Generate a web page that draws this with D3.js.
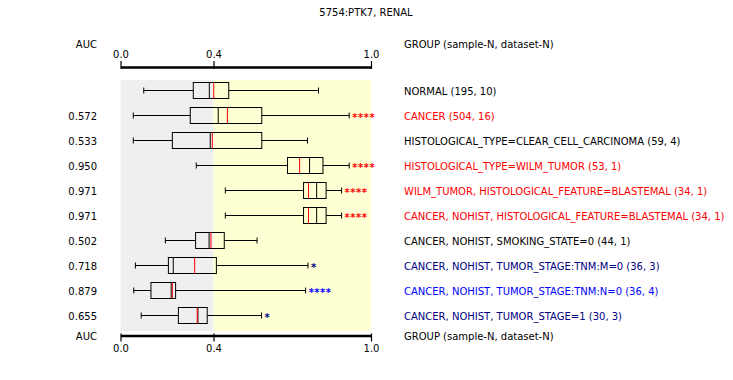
<!DOCTYPE html>
<html><head><meta charset="utf-8">
<script src="https://cdn.jsdelivr.net/npm/d3@7"></script>
<style>body{margin:0;background:#fff}svg text{font-family:"DejaVu Sans",sans-serif;font-size:10px}</style>
</head><body>
<svg id="c" width="733" height="380"></svg>
<script>
const title = "5754:PTK7, RENAL";
const groups = ["NORMAL (195, 10)","CANCER (504, 16)","HISTOLOGICAL_TYPE=CLEAR_CELL_CARCINOMA (59, 4)","HISTOLOGICAL_TYPE=WILM_TUMOR (53, 1)","WILM_TUMOR, HISTOLOGICAL_FEATURE=BLASTEMAL (34, 1)","CANCER, NOHIST, HISTOLOGICAL_FEATURE=BLASTEMAL (34, 1)","CANCER, NOHIST, SMOKING_STATE=0 (44, 1)","CANCER, NOHIST, TUMOR_STAGE:TNM:M=0 (36, 3)","CANCER, NOHIST, TUMOR_STAGE:TNM:N=0 (36, 4)","CANCER, NOHIST, TUMOR_STAGE=1 (30, 3)"];
const auc = ["","0.572","0.533","0.950","0.971","0.971","0.502","0.718","0.879","0.655"];
const whiskerLow  = [0.100,0.055,0.055,0.326,0.445,0.445,0.193,0.064,0.057,0.089];
const q1          = [0.313,0.300,0.223,0.682,0.743,0.743,0.323,0.206,0.131,0.249];
const median      = [0.382,0.418,0.386,0.766,0.793,0.793,0.381,0.227,0.218,0.333];
const mean        = [0.401,0.453,0.395,0.728,0.762,0.762,0.389,0.319,0.223,0.330];
const q3          = [0.458,0.584,0.584,0.817,0.829,0.829,0.441,0.411,0.237,0.373];
const whiskerHigh = [0.800,0.917,0.758,0.917,0.888,0.888,0.566,0.760,0.751,0.583];
const stars = ["","****","","****","****","****","","*","****","*"];
const groupClass = ["none","up","none","up","up","up","none","downWeak","down","downWeak"];
const tickValues = [0, 0.4, 1.0];
const tickLabels = ["0.0","0.4","1.0"];
const colorOf = {none:"#000000", up:"#ff0000", down:"#0000ff", downWeak:"#000080"};

const svg = d3.select("#c");
const x = d3.scaleLinear().domain([0,0.4,1]).range([120.5,213.5,371]);
const y = d3.scaleBand().domain(d3.range(groups.length)).range([78,328]);
const bw = 16;

svg.append("text").attr("x",366).attr("y",16).attr("text-anchor","middle").text(title);

// background
svg.append("rect").attr("x",x(0)).attr("y",80).attr("width",x(0.4)-x(0)).attr("height",251).attr("fill","#efefef");
svg.append("rect").attr("x",x(0.4)).attr("y",80).attr("width",x(1)-x(0.4)).attr("height",251).attr("fill","#ffffd4");

// axes
function axis(yPos, orient){
  const a = (orient==="top"?d3.axisTop(x):d3.axisBottom(x)).tickValues(tickValues)
     .tickFormat((d,i)=>tickLabels[i]).tickSize(6).tickSizeOuter(0);
  const g = svg.append("g").attr("transform",`translate(0,${yPos})`).call(a);
  g.select(".domain").attr("stroke","#000").attr("stroke-width",2.5);
  g.selectAll(".tick line").attr("stroke","#000").attr("stroke-width",1.2).attr("y1", orient==="top"?2:-2);
  g.selectAll(".tick text").attr("font-family",'"DejaVu Sans",sans-serif').attr("font-size","10px").attr("fill","#000");
  return g;
}
axis(67,"top");
axis(335.5,"bottom");

svg.append("text").attr("x",97).attr("y",48).attr("text-anchor","end").text("AUC");
svg.append("text").attr("x",97).attr("y",340).attr("text-anchor","end").text("AUC");
svg.append("text").attr("x",404).attr("y",48).text("GROUP (sample-N, dataset-N)");
svg.append("text").attr("x",404).attr("y",340).text("GROUP (sample-N, dataset-N)");

const rows = svg.append("g").selectAll("g").data(groups).join("g")
  .attr("transform",(d,i)=>`translate(0,${y(i)+y.bandwidth()/2})`);

rows.append("line").attr("x1",(d,i)=>x(whiskerLow[i])).attr("x2",(d,i)=>x(q1[i])).attr("stroke","#000");
rows.append("line").attr("x1",(d,i)=>x(q3[i])).attr("x2",(d,i)=>x(whiskerHigh[i])).attr("stroke","#000");
rows.append("line").attr("x1",(d,i)=>x(whiskerLow[i])).attr("x2",(d,i)=>x(whiskerLow[i])).attr("y1",-3).attr("y2",3).attr("stroke","#000");
rows.append("line").attr("x1",(d,i)=>x(whiskerHigh[i])).attr("x2",(d,i)=>x(whiskerHigh[i])).attr("y1",-3).attr("y2",3).attr("stroke","#000");
rows.append("rect").attr("x",(d,i)=>x(q1[i])).attr("y",-bw/2).attr("width",(d,i)=>x(q3[i])-x(q1[i])).attr("height",bw)
  .attr("fill","none").attr("stroke","#000");
rows.append("line").attr("x1",(d,i)=>x(median[i])).attr("x2",(d,i)=>x(median[i])).attr("y1",-bw/2).attr("y2",bw/2).attr("stroke","#000");
rows.append("line").attr("x1",(d,i)=>x(mean[i])).attr("x2",(d,i)=>x(mean[i])).attr("y1",-bw/2).attr("y2",bw/2).attr("stroke","#ff0000");

rows.append("text").attr("x",(d,i)=>x(whiskerHigh[i])+3).attr("y",5.5)
  .attr("font-weight","bold").attr("font-size","17px").attr("letter-spacing","0.5px")
  .attr("fill",(d,i)=>colorOf[groupClass[i]]).text((d,i)=>stars[i]);
rows.append("text").attr("x",97).attr("y",4).attr("text-anchor","end").text((d,i)=>auc[i]);
rows.append("text").attr("x",404).attr("y",4).attr("fill",(d,i)=>colorOf[groupClass[i]]).text(d=>d);
</script>
</body></html>
